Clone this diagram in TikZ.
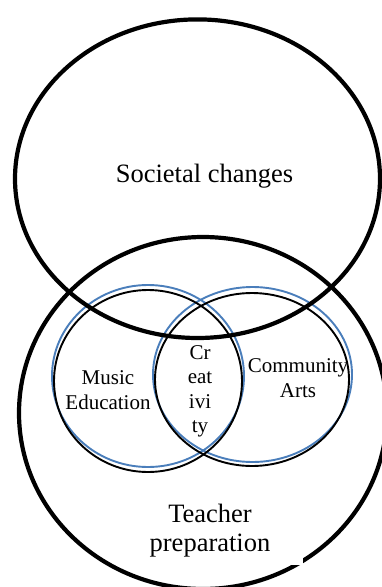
\documentclass[tikz,border=0pt]{standalone}
\usepackage{fontspec}
\setmainfont{Liberation Serif}
\begin{document}
\begin{tikzpicture}[x=1pt,y=-1pt,
  bigring/.style={draw=black,line width=4.2pt},
  bluering/.style={draw=ringblue,line width=1.9pt},
  thinring/.style={draw=black,line width=1.9pt},
  biglabel/.style={font=\fontsize{26.5}{29}\selectfont,align=center,inner sep=0pt,anchor=base},
  smalllabel/.style={font=\fontsize{21}{24.5}\selectfont,align=center,inner sep=0pt,anchor=base}]
\definecolor{ringblue}{RGB}{74,126,187}
\useasboundingbox (0,0) rectangle (382,587);
\clip (0,0) rectangle (382,587);
% inner Venn pair: blue outlines with black outlines just below them
\draw[bluering] (148,376) ellipse [x radius=96pt, y radius=91pt];
\draw[bluering] (252.5,374.5) ellipse [x radius=99.5pt, y radius=87.5pt];
\draw[thinring] (148,381) ellipse [x radius=94pt, y radius=91pt];
\draw[thinring] (252,379.5) ellipse [x radius=97pt, y radius=86.5pt];
% the two large circles
\draw[bigring] (197.5,178.7) ellipse [x radius=182.5pt, y radius=159.3pt];
\draw[bigring] (203,413) ellipse [x radius=184pt, y radius=176pt];
% labels (multi-line labels are placed by the baseline of their last line)
\node[biglabel] (society) at (204.5,182) {Societal changes};
\node[smalllabel] (music) at (108,409.3) {Music\\Education};
\node[smalllabel] (community) at (298,397.3) {Community\\Arts};
\node[smalllabel] (creativity) at (200,432.7) {Cr\\eat\\ivi\\ty};
\node[biglabel,fill=white,text width=186pt,inner xsep=0pt,inner ysep=8pt] (teacher) at (210,522.7) {Teacher\\preparation};
\end{tikzpicture}
\end{document}
